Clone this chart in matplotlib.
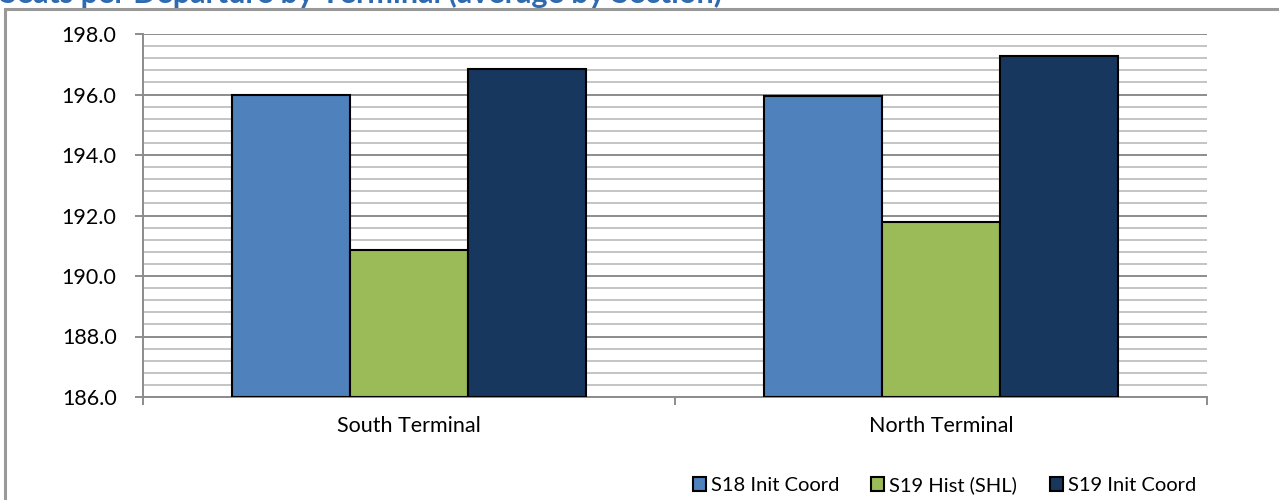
import matplotlib.pyplot as plt
import numpy as np
from matplotlib.patches import Rectangle
from matplotlib.ticker import MultipleLocator

plt.rcParams["font.family"] = ["Lato", "DejaVu Sans"]

categories = ["South Terminal", "North Terminal"]
series_names = ["S18 Init Coord", "S19 Hist (SHL)", "S19 Init Coord"]
s18_init = [196.0, 195.95]
s19_hist = [190.85, 191.8]
s19_init = [196.85, 197.28]
colors = ["#4F81BD", "#9BBB59", "#17375E"]
title = "Seats per Departure by Terminal (average by Section)"

fig = plt.figure(figsize=(12.79, 5.0), dpi=100)
ax = fig.add_axes([143 / 1279, 1 - 397 / 500, 1064 / 1279, 363 / 500])

# outer chart frame, running off the right and bottom edges like the source
fig.patches.append(Rectangle((5 / 1279, -0.1), 1.2, 1.1 - 9 / 500, transform=fig.transFigure,
                             fill=False, edgecolor="#999999", linewidth=2.2, zorder=0))
# title sits mostly above the visible area in the source
fig.text(0.0, 1 - 3 / 500, title, fontsize=22, fontweight="bold", color="#2E6AB0",
         ha="left", va="baseline")

x = np.arange(len(categories))
width = 0.222
for i, (vals, name) in enumerate(zip([s18_init, s19_hist, s19_init], series_names)):
    ax.bar(x + (i - 1) * width, np.array(vals) - 186.0, width, bottom=186.0, color=colors[i],
           edgecolor="black", linewidth=1.5, label=name, zorder=3)

ax.set_xlim(-0.5, 1.5)
ax.set_ylim(186.0, 198.0)
ax.yaxis.set_major_locator(MultipleLocator(2.0))
ax.yaxis.set_minor_locator(MultipleLocator(0.4))
ax.yaxis.set_major_formatter(lambda v, p: f"{v:.1f}")
ax.grid(axis="y", which="major", color="#8c8c8c", linewidth=1.4, zorder=1)
ax.grid(axis="y", which="minor", color="#c4c4c4", linewidth=1.4, zorder=1)

ax.set_xticks(x)
ax.set_xticklabels(categories)
ax.set_xticks([-0.5, 0.5, 1.5], minor=True)
ax.tick_params(axis="x", which="major", length=0, pad=14, labelsize=15.5)
ax.tick_params(axis="x", which="minor", length=6, color="#8c8c8c", width=1.4)
ax.tick_params(axis="y", which="major", length=6, color="#8c8c8c", width=1.4, pad=13, labelsize=15.5)
ax.tick_params(axis="y", which="minor", length=0)

for side in ["top", "right"]:
    ax.spines[side].set_visible(False)
for side in ["left", "bottom"]:
    ax.spines[side].set_color("#8c8c8c")
    ax.spines[side].set_linewidth(1.4)

fig.legend(loc="center right", bbox_to_anchor=(1206 / 1279, 15 / 500), ncol=3, frameon=False,
           fontsize=14.5, handlelength=0.65, handleheight=0.65, handletextpad=0.25,
           columnspacing=1.6, borderpad=0)

fig.savefig("out.png", dpi=100)
